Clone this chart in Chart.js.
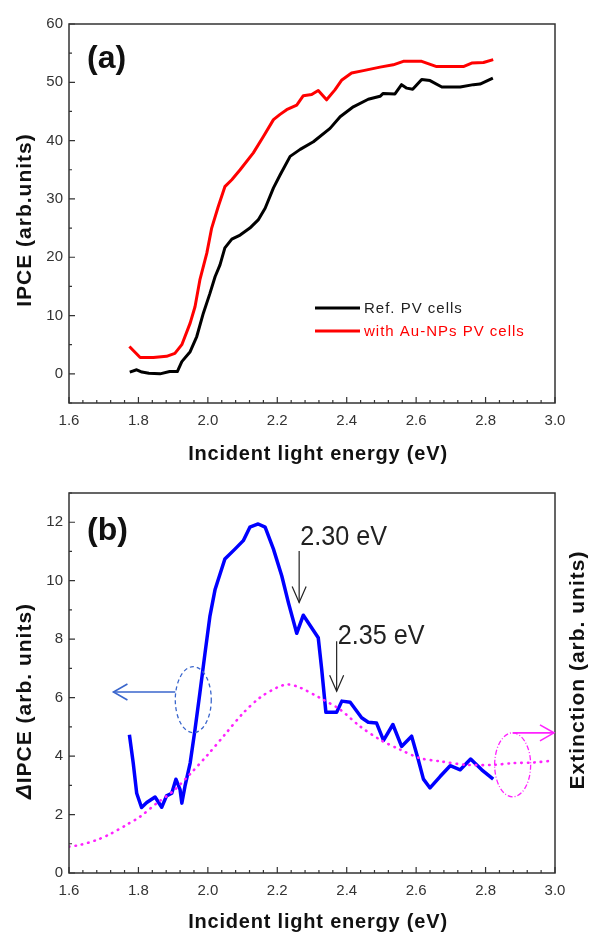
<!DOCTYPE html>
<html>
<head>
<meta charset="utf-8">
<title>IPCE</title>
<script src="https://cdn.jsdelivr.net/npm/chart.js@4.4.1/dist/chart.umd.min.js"></script>
<style>
  body { margin: 0; background: #fff; }
  #wrap { position: relative; width: 589px; height: 934px; }
  canvas { position: absolute; left: 0; }
</style>
</head>
<body>
<div id="wrap">
  <canvas id="chart_a" width="589" height="467" style="top:0px"></canvas>
  <canvas id="chart_b" width="589" height="467" style="top:467px"></canvas>
</div>
<script>
/* ---------------- data ---------------- */

// panel (a) : reference cells
const energyRef = [1.775, 1.795, 1.810, 1.830, 1.862, 1.890, 1.912, 1.925, 1.949, 1.968, 1.987, 2.006,
  2.021, 2.035, 2.049, 2.069, 2.093, 2.121, 2.145, 2.165, 2.189, 2.208, 2.237, 2.266, 2.304, 2.352,
  2.381, 2.419, 2.462, 2.496, 2.505, 2.539, 2.558, 2.573, 2.590, 2.616, 2.640, 2.674, 2.727, 2.765,
  2.784, 2.821];
const ipceRef = [0.3, 0.7, 0.3, 0.1, 0.0, 0.4, 0.4, 2.1, 3.8, 6.4, 10.4, 13.8,
  16.7, 18.7, 21.6, 23.1, 23.8, 25.0, 26.4, 28.4, 31.9, 34.1, 37.3, 38.5, 39.8, 42.1,
  44.1, 45.8, 47.1, 47.6, 48.1, 48.0, 49.6, 49.0, 48.8, 50.5, 50.3, 49.2, 49.2, 49.6,
  49.7, 50.7];

// panel (a) : cells with Au nanoparticles
const energyAu = [1.774, 1.805, 1.843, 1.881, 1.905, 1.925, 1.949, 1.963, 1.977, 1.997, 2.011, 2.030,
  2.049, 2.069, 2.093, 2.131, 2.160, 2.189, 2.208, 2.227, 2.256, 2.275, 2.299, 2.318, 2.342, 2.366,
  2.386, 2.414, 2.448, 2.496, 2.534, 2.563, 2.616, 2.659, 2.736, 2.760, 2.794, 2.822];
const ipceAu = [4.7, 2.8, 2.8, 3.0, 3.5, 5.0, 8.7, 11.5, 16.1, 20.7, 25.0, 28.7,
  32.1, 33.3, 35.0, 37.9, 40.7, 43.6, 44.5, 45.3, 46.1, 47.7, 47.9, 48.6, 47.0, 48.7,
  50.4, 51.6, 52.0, 52.6, 53.0, 53.6, 53.6, 52.7, 52.7, 53.3, 53.4, 53.9];

// panel (b) : delta IPCE
const energyDelta = [1.774, 1.785, 1.795, 1.809, 1.824, 1.848, 1.867, 1.881, 1.896, 1.908, 1.920, 1.925,
  1.934, 1.949, 1.963, 1.977, 1.992, 2.006, 2.021, 2.049, 2.078, 2.102, 2.121, 2.145, 2.165, 2.189,
  2.213, 2.232, 2.256, 2.275, 2.318, 2.328, 2.340, 2.371, 2.386, 2.410, 2.443, 2.462, 2.486, 2.506,
  2.533, 2.558, 2.587, 2.606, 2.621, 2.640, 2.669, 2.698, 2.727, 2.757, 2.789, 2.822];
const deltaIpce = [4.73, 3.76, 2.73, 2.24, 2.41, 2.60, 2.25, 2.64, 2.73, 3.21, 2.85, 2.39,
  2.96, 3.76, 4.91, 6.16, 7.54, 8.79, 9.71, 10.74, 11.08, 11.37, 11.83, 11.94, 11.83, 11.08,
  10.16, 9.25, 8.20, 8.82, 8.05, 6.96, 5.50, 5.50, 5.88, 5.84, 5.31, 5.16, 5.13, 4.54,
  5.08, 4.33, 4.68, 3.88, 3.21, 2.91, 3.30, 3.67, 3.53, 3.90, 3.53, 3.21];

// panel (b) : extinction (plotted in the same units as the left axis)
const energyExt = [1.600, 1.632, 1.680, 1.718, 1.766, 1.805, 1.853, 1.900, 1.950, 2.000, 2.050, 2.100,
  2.150, 2.200, 2.230, 2.266, 2.323, 2.381, 2.438, 2.496, 2.554, 2.611, 2.669, 2.746, 2.822, 2.880,
  2.938, 2.991];
const extinction = [0.90, 0.96, 1.13, 1.33, 1.65, 1.93, 2.39, 2.80, 3.40, 4.05, 4.75, 5.45,
  6.00, 6.35, 6.45, 6.34, 5.99, 5.59, 5.02, 4.56, 4.22, 3.93, 3.82, 3.70, 3.70, 3.76,
  3.78, 3.84];

// axes
const xTickVals = [1.6, 1.8, 2.0, 2.2, 2.4, 2.6, 2.8, 3.0];
const yTicksA = [0, 10, 20, 30, 40, 50, 60];
const yTicksB = [0, 2, 4, 6, 8, 10, 12];

/* ---------------- helpers ---------------- */

const FONT = "'Liberation Sans', Arial, sans-serif";
Chart.defaults.font.family = FONT;
Chart.defaults.color = '#333';

function pts(xs, ys) {
  return xs.map((x, i) => ({ x: x, y: ys[i] }));
}

function arrowHead(ctx, tx, ty, dx, dy, len, half) {
  // open "V" head, tip at (tx, ty), pointing along (dx, dy)
  const nx = -dy, ny = dx;
  ctx.beginPath();
  ctx.moveTo(tx - dx * len + nx * half, ty - dy * len + ny * half);
  ctx.lineTo(tx, ty);
  ctx.lineTo(tx - dx * len - nx * half, ty - dy * len - ny * half);
  ctx.stroke();
}

function rotText(ctx, parts, x, y, angle) {
  // parts: [[text, font], ...] drawn centred on (x, y), rotated
  ctx.save();
  ctx.translate(x, y);
  ctx.rotate(angle);
  ctx.textBaseline = 'middle';
  ctx.textAlign = 'left';
  let total = 0;
  parts.forEach(p => { ctx.font = p[1]; total += ctx.measureText(p[0]).width; });
  let cx = -total / 2;
  parts.forEach(p => { ctx.font = p[1]; ctx.fillText(p[0], cx, 0); cx += ctx.measureText(p[0]).width; });
  ctx.restore();
}

// frame, inward ticks, titles and extras for one panel
function makeDeco(o) {
  return {
    id: 'deco_' + o.panel,
    afterDraw(chart) {
      const ctx = chart.ctx;
      const a = chart.chartArea;
      const xs = chart.scales.x, ys = chart.scales.y;
      ctx.save();

      ctx.strokeStyle = '#333';
      ctx.lineWidth = 1.2;
      ctx.beginPath();
      const nx = Math.round((xs.max - xs.min) / o.xMinor);
      for (let i = 0; i <= nx; i++) {
        const px = xs.getPixelForValue(xs.min + i * o.xMinor);
        ctx.moveTo(px, a.bottom); ctx.lineTo(px, a.bottom - 3);
      }
      xs.ticks.forEach(t => {
        const px = xs.getPixelForValue(t.value);
        ctx.moveTo(px, a.bottom); ctx.lineTo(px, a.bottom - 6);
      });
      const ny = Math.round((ys.max - ys.min) / o.yMinor);
      for (let i = 0; i <= ny; i++) {
        const py = ys.getPixelForValue(ys.min + i * o.yMinor);
        ctx.moveTo(a.left, py); ctx.lineTo(a.left + 3, py);
      }
      ys.ticks.forEach(t => {
        const py = ys.getPixelForValue(t.value);
        ctx.moveTo(a.left, py); ctx.lineTo(a.left + 6, py);
      });
      ctx.stroke();

      ctx.lineWidth = 1.5;
      ctx.strokeRect(a.left, a.top, a.right - a.left, a.bottom - a.top);

      // axis titles
      ctx.fillStyle = '#111';
      ctx.letterSpacing = '0.8px';
      ctx.font = 'bold 20px ' + FONT;
      ctx.textAlign = 'center';
      ctx.textBaseline = 'middle';
      ctx.fillText('Incident light energy (eV)', (a.left + a.right) / 2 + 6, o.xTitleY);
      ctx.letterSpacing = '1px';
      rotText(ctx, o.yTitle, 25, o.yTitleY, -Math.PI / 2);
      if (o.rightTitle) rotText(ctx, o.rightTitle, 578, o.rightTitleY, -Math.PI / 2);
      ctx.letterSpacing = '0px';

      // panel letter
      ctx.fillStyle = '#111';
      ctx.font = 'bold 32px ' + FONT;
      ctx.textAlign = 'left';
      ctx.textBaseline = 'alphabetic';
      ctx.fillText(o.panel, 87, o.panelY);

      if (o.extra) o.extra(chart, ctx, xs, ys);
      ctx.restore();
    }
  };
}

function baseScales(yMin, yMax, yTicks, xHeight) {
  return {
    x: {
      type: 'linear', min: 1.6, max: 3.0,
      afterBuildTicks: s => { s.ticks = xTickVals.map(v => ({ value: v })); },
      afterFit: s => { s.height = xHeight; },
      ticks: { autoSkip: false, maxRotation: 0, padding: 9, color: '#333',
               font: { size: 15 }, callback: v => Number(v).toFixed(1) },
      grid: { display: false, drawTicks: false },
      border: { display: false }
    },
    y: {
      type: 'linear', min: yMin, max: yMax,
      afterBuildTicks: s => { s.ticks = yTicks.map(v => ({ value: v })); },
      afterFit: s => { s.width = 69; },
      ticks: { padding: 6, color: '#333', font: { size: 15 } },
      grid: { display: false, drawTicks: false },
      border: { display: false }
    }
  };
}

/* ---------------- panel (a) ---------------- */

const legendA = [
  ['Ref. PV cells', '#000', '#222', 308],
  ['with Au-NPs PV cells', '#ff0000', '#ff0000', 331]
];

const chart_a = new Chart(document.getElementById('chart_a').getContext('2d'), {
  type: 'line',
  data: {
    datasets: [
      { label: 'Ref. PV cells', data: pts(energyRef, ipceRef),
        borderColor: '#000', borderWidth: 3, pointRadius: 0, tension: 0, borderJoinStyle: 'round' },
      { label: 'with Au-NPs PV cells', data: pts(energyAu, ipceAu),
        borderColor: '#ff0000', borderWidth: 3, pointRadius: 0, tension: 0, borderJoinStyle: 'round' }
    ]
  },
  options: {
    responsive: false,
    animation: false,
    devicePixelRatio: 1,
    layout: { padding: { top: 24, right: 34, left: 0, bottom: 0 } },
    scales: baseScales(-5, 60, yTicksA, 64),
    plugins: { legend: { display: false }, tooltip: { enabled: false } }
  },
  plugins: [makeDeco({
    panel: '(a)', panelY: 68, xMinor: 0.04, yMinor: 5, xTitleY: 454,
    yTitle: [['IPCE (arb.units)', 'bold 21px ' + FONT]], yTitleY: 220,
    extra: (chart, ctx) => {
      ctx.font = '15px ' + FONT;
      ctx.letterSpacing = '1px';
      ctx.textBaseline = 'middle';
      legendA.forEach(l => {
        ctx.strokeStyle = l[1];
        ctx.lineWidth = 3;
        ctx.beginPath(); ctx.moveTo(315, l[3]); ctx.lineTo(360, l[3]); ctx.stroke();
        ctx.fillStyle = l[2];
        ctx.fillText(l[0], 364, l[3] + 1);
      });
      ctx.letterSpacing = '0px';
    }
  })]
});

/* ---------------- panel (b) ---------------- */

const peakNotes = [
  { text: '2.30 eV', x: 2.263, textY: 11.22, from: 11.02, to: 9.25 },
  { text: '2.35 eV', x: 2.371, textY: 7.82, from: 7.93, to: 6.22 }
];

const chart_b_scales = baseScales(0, 13, yTicksB, 61);
chart_b_scales.y2 = {
  type: 'linear', position: 'right', min: 0, max: 13,
  afterFit: s => { s.width = 34; },
  ticks: { display: false },
  grid: { display: false, drawTicks: false },
  border: { display: false }
};

const chart_b = new Chart(document.getElementById('chart_b').getContext('2d'), {
  type: 'line',
  data: {
    datasets: [
      { label: 'Extinction', data: pts(energyExt, extinction), yAxisID: 'y2',
        borderColor: '#ff22ff', borderWidth: 2.6, borderDash: [0.5, 6], borderCapStyle: 'round',
        pointRadius: 0, tension: 0.3 },
      { label: 'ΔIPCE', data: pts(energyDelta, deltaIpce), yAxisID: 'y',
        borderColor: '#0000ff', borderWidth: 3.5, pointRadius: 0, tension: 0, borderJoinStyle: 'round' }
    ]
  },
  options: {
    responsive: false,
    animation: false,
    devicePixelRatio: 1,
    layout: { padding: { top: 26, right: 0, left: 0, bottom: 0 } },
    scales: chart_b_scales,
    plugins: { legend: { display: false }, tooltip: { enabled: false } }
  },
  plugins: [makeDeco({
    panel: '(b)', panelY: 73, xMinor: 0.04, yMinor: 1, xTitleY: 455,
    yTitle: [['Δ', 'italic bold 22px ' + FONT], ['IPCE (arb. units)', 'bold 21px ' + FONT]], yTitleY: 234,
    rightTitle: [['Extinction (arb. units)', 'bold 21px ' + FONT]], rightTitleY: 203,
    extra: (chart, ctx, xs, ys) => {
      // blue ellipse + arrow to the left axis
      let cx = xs.getPixelForValue(1.958), cy = ys.getPixelForValue(5.93);
      ctx.strokeStyle = '#3a66cc';
      ctx.lineWidth = 1.3;
      ctx.setLineDash([4, 3]);
      ctx.beginPath(); ctx.ellipse(cx, cy, 18, 33, 0, 0, Math.PI * 2); ctx.stroke();
      ctx.setLineDash([]);
      ctx.lineWidth = 1.6;
      let ay = ys.getPixelForValue(6.19);
      let tip = xs.getPixelForValue(1.728);
      ctx.beginPath(); ctx.moveTo(cx - 18, ay); ctx.lineTo(tip, ay); ctx.stroke();
      arrowHead(ctx, tip, ay, -1, 0, 14, 8);

      // magenta ellipse + arrow to the right axis
      cx = xs.getPixelForValue(2.878); cy = ys.getPixelForValue(3.70);
      ctx.strokeStyle = '#ff22ff';
      ctx.lineWidth = 1.3;
      ctx.setLineDash([5, 2, 1, 2]);
      ctx.beginPath(); ctx.ellipse(cx, cy, 18, 32, 0, 0, Math.PI * 2); ctx.stroke();
      ctx.setLineDash([]);
      ctx.lineWidth = 1.6;
      tip = xs.getPixelForValue(2.997);
      ctx.beginPath(); ctx.moveTo(cx, cy - 32); ctx.lineTo(tip, cy - 32); ctx.stroke();
      arrowHead(ctx, tip, cy - 32, 1, 0, 14, 8);

      // peak markers
      ctx.strokeStyle = '#222';
      ctx.fillStyle = '#222';
      ctx.lineWidth = 1.2;
      ctx.font = '28px ' + FONT;
      ctx.textAlign = 'left';
      ctx.textBaseline = 'alphabetic';
      peakNotes.forEach(n => {
        const px = xs.getPixelForValue(n.x);
        const y0 = ys.getPixelForValue(n.from), y1 = ys.getPixelForValue(n.to);
        ctx.beginPath(); ctx.moveTo(px, y0); ctx.lineTo(px, y1); ctx.stroke();
        arrowHead(ctx, px, y1, 0, 1, 16, 7);
        ctx.save();
        ctx.translate(px + 1, ys.getPixelForValue(n.textY));
        ctx.scale(0.9, 1);
        ctx.fillText(n.text, 0, 0);
        ctx.restore();
      });
    }
  })]
});
</script>
</body>
</html>
